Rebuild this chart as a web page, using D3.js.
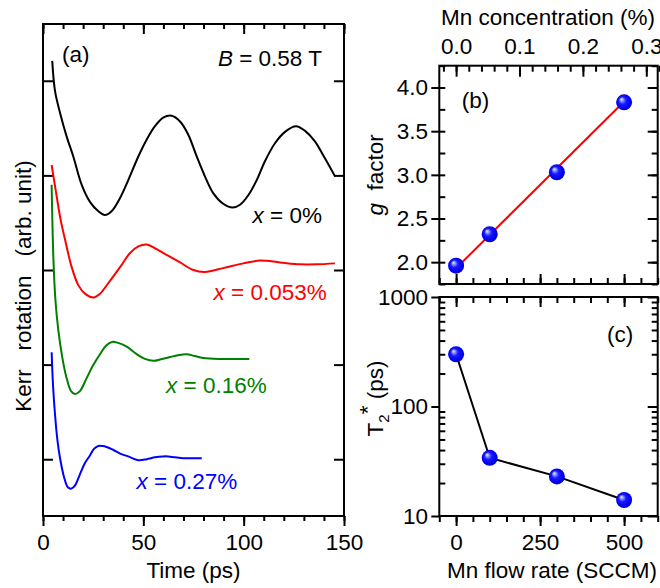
<!DOCTYPE html>
<html>
<head>
<meta charset="utf-8">
<script src="https://cdn.jsdelivr.net/npm/d3@7"></script>
<style>
  html, body { margin: 0; padding: 0; background: #fff; }
  svg { display: block; font-family: "Liberation Sans", Arial, Helvetica, sans-serif; }
  text { white-space: pre; }
</style>
</head>
<body>
<svg id="chart" width="660" height="588"></svg>
<script>
// ---- Time-resolved Kerr rotation, B = 0.58 T: [time (ps), signal (arb. unit, traces offset)] ----
const kerrMn0 = [
  [4.6,4.21],[6.0,3.89],[8.5,3.66],[11.8,3.41],[15.1,3.20],[19.3,2.90],[23.4,2.72],[27.6,2.62],
  [30.9,2.58],[34.2,2.62],[38.4,2.76],[42.5,2.95],[47.5,3.20],[51.7,3.38],[55.8,3.52],[59.9,3.61],
  [64.1,3.63],[68.3,3.57],[72.4,3.43],[76.6,3.20],[80.7,2.99],[84.9,2.81],[89.8,2.70],[94.5,2.66],
  [98.2,2.69],[102.3,2.79],[106.5,2.95],[110.6,3.15],[115.6,3.34],[120.6,3.46],[126.1,3.52],
  [130.6,3.47],[135.5,3.36],[140.5,3.18],[145.5,2.99]
];
const kerrMn053 = [
  [4.3,3.11],[6.8,2.78],[8.8,2.53],[11.0,2.32],[14.3,2.03],[17.6,1.84],[20.9,1.75],[25.1,1.71],
  [28.4,1.75],[32.5,1.86],[38.4,2.03],[43.4,2.18],[47.5,2.25],[51.7,2.27],[55.8,2.23],[61.6,2.16],
  [68.3,2.08],[74.9,2.00],[80.7,1.98],[89.8,2.02],[99.8,2.07],[108.1,2.10],[118.1,2.08],
  [128.1,2.06],[136.4,2.06],[145.5,2.07]
];
const kerrMn16 = [
  [4.3,2.90],[5.2,2.11],[6.2,1.68],[7.6,1.37],[9.5,1.09],[11.5,0.88],[14.0,0.72],[15.9,0.69],
  [18.4,0.72],[21.8,0.86],[24.9,0.99],[28.4,1.11],[31.4,1.20],[34.4,1.24],[37.4,1.23],[41.7,1.19],
  [46.7,1.11],[50.8,1.06],[55.0,1.04],[59.3,1.06],[63.3,1.08],[67.3,1.10],[71.6,1.11],[75.7,1.09],
  [79.9,1.07],[88.2,1.06],[94.8,1.06],[102.8,1.06]
];
const kerrMn27 = [
  [4.3,1.13],[5.0,0.78],[6.0,0.47],[7.2,0.20],[8.5,0.01],[10.5,-0.19],[12.5,-0.30],[14.2,-0.31],
  [15.9,-0.28],[18.4,-0.16],[20.9,-0.04],[23.4,0.04],[25.4,0.11],[27.6,0.14],[29.6,0.14],
  [31.7,0.13],[34.9,0.10],[38.4,0.06],[42.4,0.03],[47.5,-0.01],[51.7,0.00],[55.8,0.02],
  [59.8,0.03],[62.4,0.03],[65.8,0.02],[70.0,0.01],[74.3,0.01],[79.1,0.01]
];
const traceConcentrations = ["0%", "0.053%", "0.16%", "0.27%"];
const timeTicks = [0, 50, 100, 150];
const timeMinorTicks = d3.range(0, 151, 10);
const kerrTicks = [0, 1, 2, 3, 4];

// ---- g factor and T2* versus Mn flow rate ----
const flowRate = [0, 100, 300, 500];
const gFactor = [1.96, 2.32, 3.03, 3.83];
const gFitFlow = [0, 500];
const gFitValue = [1.93, 3.84];
const t2Star = [300, 34, 23, 14];
const flowTicks = [0, 250, 500];
const flowMinorTicks = d3.range(-50, 601, 50);
const gTicks = [2.0, 2.5, 3.0, 3.5, 4.0];
const gMinorTicks = d3.range(1.75, 4.26, 0.25);
const t2Ticks = [10, 100, 1000];
const concTicks = [0.0, 0.1, 0.2, 0.3];
const concMinorTicks = d3.range(-0.02, 0.321, 0.02);
const concPerFlow = 0.00053; // Mn concentration (%) per SCCM

const FONT = 22.5;
const svg = d3.select("#chart");

// ---------- scales ----------
const xTime = d3.scaleLinear().domain([0, 150]).range([43, 344]);
const yKerr = d3.scaleLinear().domain([-0.6, 4.6]).range([516, 24]);

const xFlow = d3.scaleLinear().domain([-50, 600]).range([439.3, 657.7]);
const xConc = d3.scaleLinear().domain(xFlow.domain().map(f => f * concPerFlow)).range(xFlow.range());
const yG = d3.scaleLinear().domain([1.75, 4.25]).range([284, 65.7]);
const yT2 = d3.scaleLog().domain([10, 1000]).range([516, 297]);

// ---------- axis helpers ----------
function tickAxis(gen, scale, values, size, tx, ty) {
  const g = svg.append("g").attr("transform", `translate(${tx},${ty})`)
    .call(gen(scale).tickValues(values).tickSize(size).tickFormat(""));
  g.select(".domain").remove();
  g.selectAll(".tick line").attr("stroke", "#000").attr("stroke-width", 2);
  return g;
}
function labelAxis(gen, scale, values, fmt, pad, tx, ty) {
  const g = svg.append("g").attr("transform", `translate(${tx},${ty})`)
    .call(gen(scale).tickValues(values).tickSize(0).tickPadding(pad).tickFormat(fmt));
  g.select(".domain").remove();
  g.selectAll(".tick line").remove();
  g.attr("font-family", null).attr("font-size", FONT);
  g.selectAll("text").attr("fill", "#000");
  return g;
}
function frame(x0, x1, y0, y1) {
  svg.append("rect").attr("x", x0).attr("y", y0)
    .attr("width", x1 - x0).attr("height", y1 - y0)
    .attr("fill", "none").attr("stroke", "#000").attr("stroke-width", 2);
}

// ================= panel (a) =================
const [aL, aR] = xTime.range();
const [aB, aT] = yKerr.range();

tickAxis(d3.axisBottom, xTime, timeMinorTicks, 5, 0, aB);
tickAxis(d3.axisBottom, xTime, timeTicks, 10, 0, aB);
tickAxis(d3.axisTop, xTime, timeMinorTicks, -5, 0, aT);
tickAxis(d3.axisTop, xTime, timeTicks, -10, 0, aT);
tickAxis(d3.axisLeft, yKerr, kerrTicks, -10, aL, 0);
tickAxis(d3.axisRight, yKerr, kerrTicks, -10, aR, 0);
labelAxis(d3.axisBottom, xTime, timeTicks, d3.format("d"), 18, 0, aB);

const kerrLine = d3.line()
  .x(d => xTime(d[0])).y(d => yKerr(d[1]))
  .curve(d3.curveCatmullRom.alpha(0.5));

const traces = [kerrMn0, kerrMn053, kerrMn16, kerrMn27];
const traceColors = ["#000000", "#ff0000", "#008000", "#0000ff"];
svg.append("g").selectAll("path").data(traces).join("path")
  .attr("d", kerrLine)
  .attr("fill", "none")
  .attr("stroke", (d, i) => traceColors[i])
  .attr("stroke-width", 2)
  .attr("stroke-linejoin", "round");

// trace labels (anchored at the end of the text, in data units)
const traceLabelAt = [[139, 2.50], [141.4, 1.68], [111.5, 0.70], [96.8, -0.31]];
traceConcentrations.forEach((c, i) => {
  const t = svg.append("text")
    .attr("x", xTime(traceLabelAt[i][0])).attr("y", yKerr(traceLabelAt[i][1]))
    .attr("text-anchor", "end").attr("font-size", FONT).attr("fill", traceColors[i]);
  t.append("tspan").attr("font-style", "italic").text("x");
  t.append("tspan").text(" = " + c);
});

svg.append("text").attr("x", xTime(9.5)).attr("y", yKerr(4.2))
  .attr("font-size", FONT).text("(a)");
const bLab = svg.append("text").attr("x", xTime(139)).attr("y", yKerr(4.16))
  .attr("text-anchor", "end").attr("font-size", FONT);
bLab.append("tspan").attr("font-style", "italic").text("B");
bLab.append("tspan").text(" = 0.58 T");

frame(aL, aR, aT, aB);

svg.append("text").attr("x", (aL + aR) / 2).attr("y", 578)
  .attr("text-anchor", "middle").attr("font-size", FONT).text("Time (ps)");
svg.append("text")
  .attr("transform", `translate(31,${(aT + aB) / 2 + 16}) rotate(-90)`)
  .attr("text-anchor", "middle").attr("font-size", FONT)
  .text("Kerr   rotation   (arb. unit)");

// ================= panel (b) =================
const [bL, bR] = xFlow.range();
const [gB, gT] = yG.range();

tickAxis(d3.axisBottom, xFlow, flowMinorTicks, -6, 0, gB);
tickAxis(d3.axisBottom, xFlow, flowTicks, -10, 0, gB);
tickAxis(d3.axisTop, xConc, concMinorTicks, -6, 0, gT);
tickAxis(d3.axisTop, xConc, concTicks, -11, 0, gT);
tickAxis(d3.axisLeft, yG, gMinorTicks, -6, bL, 0);
tickAxis(d3.axisLeft, yG, gTicks, 8, bL, 0);
tickAxis(d3.axisRight, yG, gMinorTicks, -6, bR, 0);
tickAxis(d3.axisRight, yG, gTicks, -10, bR, 0);
labelAxis(d3.axisTop, xConc, concTicks, d3.format(".1f"), 11.7, 0, gT);
labelAxis(d3.axisLeft, yG, gTicks, d3.format(".1f"), 11.3, bL, 0);

svg.append("line")
  .attr("x1", xFlow(gFitFlow[0])).attr("y1", yG(gFitValue[0]))
  .attr("x2", xFlow(gFitFlow[1])).attr("y2", yG(gFitValue[1]))
  .attr("stroke", "#ff0000").attr("stroke-width", 2);

// shaded sphere marker
const defs = svg.append("defs");
const grad = defs.append("radialGradient").attr("id", "sphere")
  .attr("cx", "50%").attr("cy", "50%").attr("r", "55%")
  .attr("fx", "32%").attr("fy", "30%");
[[0, "#f2f4ff"], [0.18, "#8c96ff"], [0.42, "#1a1aff"], [0.8, "#0000f0"], [1, "#0000b4"]]
  .forEach(([o, c]) => grad.append("stop").attr("offset", o).attr("stop-color", c));

function spheres(ys, yScale) {
  svg.append("g").selectAll("circle").data(flowRate).join("circle")
    .attr("cx", d => xFlow(d))
    .attr("cy", (d, i) => yScale(ys[i]))
    .attr("r", 8)
    .attr("fill", "url(#sphere)");
}
spheres(gFactor, yG);

svg.append("text").attr("x", xFlow(16.7)).attr("y", yG(3.766))
  .attr("font-size", FONT).text("(b)");

frame(bL, bR, gT, gB);

svg.append("text").attr("x", 548).attr("y", 25)
  .attr("text-anchor", "middle").attr("font-size", FONT).text("Mn concentration (%)");
const gTitle = svg.append("text")
  .attr("transform", `translate(383,${(gT + gB) / 2}) rotate(-90)`)
  .attr("text-anchor", "middle").attr("font-size", FONT);
gTitle.append("tspan").attr("font-style", "italic").text("g");
gTitle.append("tspan").text("  factor");

// ================= panel (c) =================
const [cB, cT] = yT2.range();
const t2Minor = [20, 30, 40, 50, 60, 70, 80, 90, 200, 300, 400, 500, 600, 700, 800, 900];

tickAxis(d3.axisBottom, xFlow, flowMinorTicks, 6, 0, cB);
tickAxis(d3.axisBottom, xFlow, flowTicks, 10, 0, cB);
tickAxis(d3.axisTop, xFlow, flowMinorTicks, -6, 0, cT);
tickAxis(d3.axisTop, xFlow, flowTicks, -10, 0, cT);
tickAxis(d3.axisLeft, yT2, t2Minor, -6, bL, 0);
tickAxis(d3.axisLeft, yT2, t2Ticks, 8, bL, 0);
tickAxis(d3.axisRight, yT2, t2Minor, -6, bR, 0);
tickAxis(d3.axisRight, yT2, t2Ticks, -10, bR, 0);
labelAxis(d3.axisBottom, xFlow, flowTicks, d3.format("d"), 18, 0, cB);
labelAxis(d3.axisLeft, yT2, t2Ticks, d3.format("d"), 11.3, bL, 0);

svg.append("path")
  .attr("d", d3.line().x(d => xFlow(d)).y((d, i) => yT2(t2Star[i]))(flowRate))
  .attr("fill", "none").attr("stroke", "#000").attr("stroke-width", 2);
spheres(t2Star, yT2);

svg.append("text").attr("x", xFlow(527)).attr("y", yT2(389))
  .attr("text-anchor", "end").attr("font-size", FONT).text("(c)");

frame(bL, bR, cT, cB);

svg.append("text").attr("x", 552).attr("y", 578)
  .attr("text-anchor", "middle").attr("font-size", FONT).text("Mn flow rate (SCCM)");
const tTitle = svg.append("text")
  .attr("transform", `translate(383,${(cT + cB) / 2 - 8}) rotate(-90)`)
  .attr("text-anchor", "middle").attr("font-size", FONT);
tTitle.append("tspan").text("T");
tTitle.append("tspan").attr("font-size", 15).attr("dy", 6).text("2");
tTitle.append("tspan").attr("dy", -14).text("*");
tTitle.append("tspan").attr("dy", 8).text(" (ps)");
</script>
</body>
</html>
